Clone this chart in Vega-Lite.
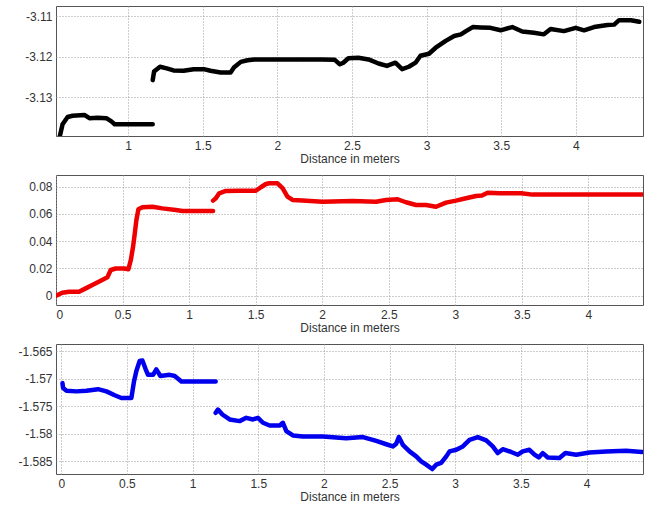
{
  "$schema": "https://vega.github.io/schema/vega-lite/v6.json",
  "padding": {"left": 17, "top": 5, "right": 0, "bottom": 0},
  "spacing": 9,
  "datasets": {
    "black": [
      {"x":0.543,"y":-3.1396,"s":1},{"x":0.561,"y":-3.1367,"s":1},{"x":0.595,"y":-3.1349,"s":1},{"x":0.628,"y":-3.1346,"s":1},{"x":0.707,"y":-3.1344,"s":1},{"x":0.741,"y":-3.1352,"s":1},{"x":0.797,"y":-3.1351,"s":1},{"x":0.854,"y":-3.1352,"s":1},{"x":0.888,"y":-3.136,"s":1},{"x":0.91,"y":-3.1367,"s":1},{"x":1.165,"y":-3.1367,"s":1},
      {"x":1.165,"y":-3.1258,"s":2},{"x":1.174,"y":-3.1237,"s":2},{"x":1.214,"y":-3.1225,"s":2},{"x":1.259,"y":-3.1229,"s":2},{"x":1.304,"y":-3.1234,"s":2},{"x":1.372,"y":-3.1235,"s":2},{"x":1.439,"y":-3.1231,"s":2},{"x":1.507,"y":-3.1231,"s":2},{"x":1.552,"y":-3.1235,"s":2},{"x":1.62,"y":-3.1239,"s":2},{"x":1.687,"y":-3.1239,"s":2},{"x":1.709,"y":-3.1227,"s":2},{"x":1.755,"y":-3.1213,"s":2},{"x":1.8,"y":-3.1209,"s":2},{"x":1.845,"y":-3.1207,"s":2},{"x":2.025,"y":-3.1207,"s":2},{"x":2.182,"y":-3.1207,"s":2},{"x":2.295,"y":-3.1207,"s":2},{"x":2.385,"y":-3.1208,"s":2},{"x":2.419,"y":-3.1219,"s":2},{"x":2.442,"y":-3.1215,"s":2},{"x":2.476,"y":-3.1204,"s":2},{"x":2.543,"y":-3.1203,"s":2},{"x":2.611,"y":-3.1207,"s":2},{"x":2.678,"y":-3.1217,"s":2},{"x":2.734,"y":-3.1223,"s":2},{"x":2.791,"y":-3.1215,"s":2},{"x":2.836,"y":-3.1231,"s":2},{"x":2.881,"y":-3.1225,"s":2},{"x":2.926,"y":-3.1215,"s":2},{"x":2.959,"y":-3.1198,"s":2},{"x":3.016,"y":-3.1193,"s":2},{"x":3.061,"y":-3.1178,"s":2},{"x":3.128,"y":-3.1161,"s":2},{"x":3.185,"y":-3.1149,"s":2},{"x":3.23,"y":-3.1145,"s":2},{"x":3.264,"y":-3.1137,"s":2},{"x":3.309,"y":-3.1127,"s":2},{"x":3.361,"y":-3.1128,"s":2},{"x":3.428,"y":-3.1129,"s":2},{"x":3.496,"y":-3.1135,"s":2},{"x":3.574,"y":-3.1127,"s":2},{"x":3.641,"y":-3.1138,"s":2},{"x":3.719,"y":-3.1141,"s":2},{"x":3.786,"y":-3.1145,"s":2},{"x":3.831,"y":-3.1132,"s":2},{"x":3.92,"y":-3.1137,"s":2},{"x":3.999,"y":-3.1129,"s":2},{"x":4.055,"y":-3.1135,"s":2},{"x":4.122,"y":-3.1127,"s":2},{"x":4.212,"y":-3.1122,"s":2},{"x":4.257,"y":-3.1121,"s":2},{"x":4.29,"y":-3.111,"s":2},{"x":4.369,"y":-3.111,"s":2},{"x":4.425,"y":-3.1114,"s":2}
    ],
    "red": [
      {"x":0.0,"y":0.0,"s":1},{"x":0.047,"y":0.0022,"s":1},{"x":0.098,"y":0.0029,"s":1},{"x":0.173,"y":0.0029,"s":1},{"x":0.223,"y":0.0054,"s":1},{"x":0.273,"y":0.0079,"s":1},{"x":0.336,"y":0.011,"s":1},{"x":0.386,"y":0.0135,"s":1},{"x":0.411,"y":0.0189,"s":1},{"x":0.449,"y":0.02,"s":1},{"x":0.511,"y":0.02,"s":1},{"x":0.544,"y":0.0194,"s":1},{"x":0.562,"y":0.0262,"s":1},{"x":0.579,"y":0.036,"s":1},{"x":0.592,"y":0.0458,"s":1},{"x":0.604,"y":0.0556,"s":1},{"x":0.619,"y":0.0634,"s":1},{"x":0.649,"y":0.0649,"s":1},{"x":0.724,"y":0.0653,"s":1},{"x":0.799,"y":0.0641,"s":1},{"x":0.9,"y":0.0629,"s":1},{"x":0.95,"y":0.0622,"s":1},{"x":1.18,"y":0.0622,"s":1},
      {"x":1.18,"y":0.0698,"s":2},{"x":1.201,"y":0.0715,"s":2},{"x":1.226,"y":0.0752,"s":2},{"x":1.276,"y":0.0769,"s":2},{"x":1.376,"y":0.0771,"s":2},{"x":1.502,"y":0.0771,"s":2},{"x":1.539,"y":0.0796,"s":2},{"x":1.577,"y":0.082,"s":2},{"x":1.602,"y":0.0825,"s":2},{"x":1.664,"y":0.0825,"s":2},{"x":1.702,"y":0.0789,"s":2},{"x":1.739,"y":0.0727,"s":2},{"x":1.777,"y":0.0703,"s":2},{"x":1.852,"y":0.0698,"s":2},{"x":2.002,"y":0.069,"s":2},{"x":2.228,"y":0.0696,"s":2},{"x":2.404,"y":0.069,"s":2},{"x":2.479,"y":0.0703,"s":2},{"x":2.566,"y":0.0708,"s":2},{"x":2.629,"y":0.0686,"s":2},{"x":2.705,"y":0.0666,"s":2},{"x":2.78,"y":0.0666,"s":2},{"x":2.855,"y":0.0653,"s":2},{"x":2.93,"y":0.0683,"s":2},{"x":3.005,"y":0.0698,"s":2},{"x":3.08,"y":0.0715,"s":2},{"x":3.156,"y":0.0732,"s":2},{"x":3.2,"y":0.0735,"s":2},{"x":3.243,"y":0.0756,"s":2},{"x":3.331,"y":0.0752,"s":2},{"x":3.494,"y":0.0752,"s":2},{"x":3.581,"y":0.0742,"s":2},{"x":4.0,"y":0.0742,"s":2},{"x":4.406,"y":0.0742,"s":2}
    ],
    "blue": [
      {"x":0.009,"y":-1.5708,"s":1},{"x":0.014,"y":-1.5717,"s":1},{"x":0.04,"y":-1.5722,"s":1},{"x":0.116,"y":-1.5723,"s":1},{"x":0.192,"y":-1.5722,"s":1},{"x":0.28,"y":-1.5719,"s":1},{"x":0.344,"y":-1.5723,"s":1},{"x":0.407,"y":-1.573,"s":1},{"x":0.458,"y":-1.5735,"s":1},{"x":0.534,"y":-1.5735,"s":1},{"x":0.554,"y":-1.5705,"s":1},{"x":0.572,"y":-1.5686,"s":1},{"x":0.597,"y":-1.5668,"s":1},{"x":0.618,"y":-1.5667,"s":1},{"x":0.643,"y":-1.5683,"s":1},{"x":0.661,"y":-1.5693,"s":1},{"x":0.699,"y":-1.5693,"s":1},{"x":0.724,"y":-1.5683,"s":1},{"x":0.755,"y":-1.5695,"s":1},{"x":0.826,"y":-1.5693,"s":1},{"x":0.864,"y":-1.5695,"s":1},{"x":0.915,"y":-1.5705,"s":1},{"x":1.176,"y":-1.5705,"s":1},
      {"x":1.176,"y":-1.5762,"s":2},{"x":1.193,"y":-1.5756,"s":2},{"x":1.227,"y":-1.5765,"s":2},{"x":1.282,"y":-1.5774,"s":2},{"x":1.358,"y":-1.5777,"s":2},{"x":1.409,"y":-1.5771,"s":2},{"x":1.46,"y":-1.5774,"s":2},{"x":1.498,"y":-1.5771,"s":2},{"x":1.536,"y":-1.578,"s":2},{"x":1.587,"y":-1.5785,"s":2},{"x":1.663,"y":-1.5785,"s":2},{"x":1.688,"y":-1.578,"s":2},{"x":1.714,"y":-1.5795,"s":2},{"x":1.764,"y":-1.5803,"s":2},{"x":1.84,"y":-1.5805,"s":2},{"x":1.992,"y":-1.5805,"s":2},{"x":2.17,"y":-1.5808,"s":2},{"x":2.297,"y":-1.5806,"s":2},{"x":2.399,"y":-1.5813,"s":2},{"x":2.475,"y":-1.5819,"s":2},{"x":2.525,"y":-1.5823,"s":2},{"x":2.551,"y":-1.5818,"s":2},{"x":2.571,"y":-1.5806,"s":2},{"x":2.601,"y":-1.582,"s":2},{"x":2.652,"y":-1.5832,"s":2},{"x":2.703,"y":-1.5841,"s":2},{"x":2.741,"y":-1.585,"s":2},{"x":2.779,"y":-1.5856,"s":2},{"x":2.825,"y":-1.5864,"s":2},{"x":2.855,"y":-1.5856,"s":2},{"x":2.893,"y":-1.5853,"s":2},{"x":2.932,"y":-1.5841,"s":2},{"x":2.957,"y":-1.5832,"s":2},{"x":3.008,"y":-1.5829,"s":2},{"x":3.058,"y":-1.5823,"s":2},{"x":3.109,"y":-1.5811,"s":2},{"x":3.172,"y":-1.5806,"s":2},{"x":3.236,"y":-1.5812,"s":2},{"x":3.286,"y":-1.5823,"s":2},{"x":3.324,"y":-1.5835,"s":2},{"x":3.362,"y":-1.5828,"s":2},{"x":3.426,"y":-1.5833,"s":2},{"x":3.477,"y":-1.5838,"s":2},{"x":3.514,"y":-1.5832,"s":2},{"x":3.565,"y":-1.5829,"s":2},{"x":3.604,"y":-1.5838,"s":2},{"x":3.636,"y":-1.5843,"s":2},{"x":3.667,"y":-1.5835,"s":2},{"x":3.705,"y":-1.5843,"s":2},{"x":3.794,"y":-1.5844,"s":2},{"x":3.839,"y":-1.5835,"s":2},{"x":3.921,"y":-1.5838,"s":2},{"x":4.022,"y":-1.5834,"s":2},{"x":4.149,"y":-1.5832,"s":2},{"x":4.301,"y":-1.5831,"s":2},{"x":4.423,"y":-1.5833,"s":2}
    ]
  },
  "vconcat": [
    {
      "width": 587, "height": 130,
      "data": {"name": "black"},
      "mark": {"type": "line", "color": "#000000", "clip": true},
      "encoding": {
        "x": {"field": "x", "type": "quantitative", "scale": {"domain": [0.517, 4.45], "nice": false, "zero": false}, "axis": {"title": "Distance in meters", "values": [1, 1.5, 2, 2.5, 3, 3.5, 4], "format": "~g"}},
        "y": {"field": "y", "type": "quantitative", "scale": {"domain": [-3.1396, -3.1075], "nice": false, "zero": false}, "axis": {"title": null, "values": [-3.13, -3.12, -3.11], "format": "~g"}},
        "detail": {"field": "s"}
      }
    },
    {
      "width": 587, "height": 130,
      "data": {"name": "red"},
      "mark": {"type": "line", "color": "#ee0000", "clip": true},
      "encoding": {
        "x": {"field": "x", "type": "quantitative", "scale": {"domain": [0, 4.41], "nice": false, "zero": false}, "axis": {"title": "Distance in meters", "values": [0, 0.5, 1, 1.5, 2, 2.5, 3, 3.5, 4], "format": "~g"}},
        "y": {"field": "y", "type": "quantitative", "scale": {"domain": [-0.0068, 0.0886], "nice": false, "zero": false}, "axis": {"title": null, "values": [0, 0.02, 0.04, 0.06, 0.08], "format": "~g"}},
        "detail": {"field": "s"}
      }
    },
    {
      "width": 587, "height": 130,
      "data": {"name": "blue"},
      "mark": {"type": "line", "color": "#0000ee", "clip": true},
      "encoding": {
        "x": {"field": "x", "type": "quantitative", "scale": {"domain": [-0.04, 4.43], "nice": false, "zero": false}, "axis": {"title": "Distance in meters", "values": [0, 0.5, 1, 1.5, 2, 2.5, 3, 3.5, 4], "format": "~g"}},
        "y": {"field": "y", "type": "quantitative", "scale": {"domain": [-1.5873, -1.5637], "nice": false, "zero": false}, "axis": {"title": null, "values": [-1.585, -1.58, -1.575, -1.57, -1.565], "format": "~g"}},
        "detail": {"field": "s"}
      }
    }
  ],
  "config": {
    "locale": {"number": {"decimal": ".", "thousands": ",", "grouping": [3], "currency": ["$", ""], "minus": "-"}},
    "view": {"stroke": "#555555", "strokeWidth": 1},
    "axis": {
      "grid": true, "gridColor": "#9a9a9a", "gridDash": [1, 2], "gridWidth": 1,
      "domain": false, "ticks": false,
      "labelFont": "Liberation Sans", "labelFontSize": 12, "labelColor": "#333333", "labelPadding": 4,
      "titleFont": "Liberation Sans", "titleFontSize": 12, "titleFontWeight": "normal", "titleColor": "#333333", "titlePadding": 2
    },
    "line": {"strokeWidth": 4.5, "strokeCap": "round", "strokeJoin": "round"}
  }
}
